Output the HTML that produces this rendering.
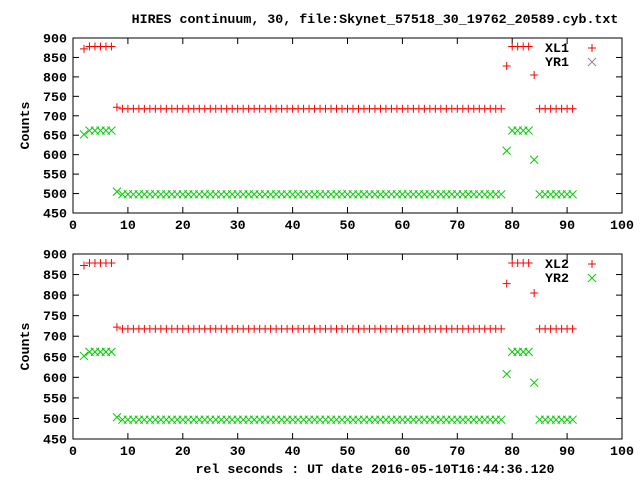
<!DOCTYPE html>
<html><head><meta charset="utf-8"><style>
body{margin:0;background:#fff}
svg{display:block}
text{font-family:"Liberation Mono",monospace;font-size:13.3px;font-weight:bold;fill:#000}
</style></head><body>
<svg id="c" width="640" height="480" xmlns="http://www.w3.org/2000/svg">
<text x="375" y="23" text-anchor="middle">HIRES continuum, 30, file:Skynet_57518_30_19762_20589.cyb.txt</text>
<text x="375" y="473" text-anchor="middle">rel seconds : UT date 2016-05-10T16:44:36.120</text>
</svg>
<script>
const times = [2,3,4,5,6,7,8,9,10,11,12,13,14,15,16,17,18,19,20,21,22,23,24,25,26,27,28,29,30,31,32,33,34,35,36,37,38,39,40,41,42,43,44,45,46,47,48,49,50,51,52,53,54,55,56,57,58,59,60,61,62,63,64,65,66,67,68,69,70,71,72,73,74,75,76,77,78,79,80,81,82,83,84,85,86,87,88,89,90,91];
function seg(a,b,c,d,e,f,g,h){const r=[a];for(let i=0;i<5;i++)r.push(b);r.push(c);for(let i=0;i<70;i++)r.push(d);r.push(e);for(let i=0;i<4;i++)r.push(f);r.push(g);for(let i=0;i<7;i++)r.push(h);return r;}
const xl1 = seg(872,878,722,718,828,878,805,718);
const yr1 = seg(652,662,505,498,610,662,587,498);
const xl2 = seg(872,878,722,718,828,878,805,718);
const yr2 = seg(652,662,503,497,608,662,587,497);
const yTicks = [450,500,550,600,650,700,750,800,850,900];
const xTicks = [0,10,20,30,40,50,60,70,80,90,100];
const panels = [
 {top:38,bot:213,a:xl1,b:yr1,la:"XL1",lb:"YR1",xl:false},
 {top:254,bot:439,a:xl2,b:yr2,la:"XL2",lb:"YR2",xl:true}];
const svg=document.getElementById('c'),NS="http://www.w3.org/2000/svg";
const L=73,R=622;
function mk(t,at,p){const e=document.createElementNS(NS,t);for(const k in at)e.setAttribute(k,at[k]);(p||svg).appendChild(e);return e;}
const xs=v=>L+(v-0)/100*(R-L);
panels.forEach((p,pi)=>{
 const ys=v=>p.bot-(v-450)/450*(p.bot-p.top);
 const g=mk('g',{});
 
 
 const fr=mk('rect',{x:L,y:p.top,width:R-L,height:p.bot-p.top,fill:'none',stroke:'#000','stroke-width':1},g);
 
 
 yTicks.forEach(v=>{const y=ys(v);
  mk('line',{x1:L,x2:L+6,y1:y,y2:y,stroke:'#000'},g);mk('line',{x1:R-6,x2:R,y1:y,y2:y,stroke:'#000'},g);
  const t=mk('text',{x:L-6,y:y+4.5,'text-anchor':'end'},g);t.textContent=v;
  
  });
 xTicks.forEach(v=>{const x=xs(v);
  mk('line',{x1:x,x2:x,y1:p.bot,y2:p.bot-6,stroke:'#000'},g);mk('line',{x1:x,x2:x,y1:p.top,y2:p.top+6,stroke:'#000'},g);
  const t=mk('text',{x:x,y:p.bot+16,'text-anchor':'middle'},g);t.textContent=v;
  
  });
 const yt=mk('text',{x:29,y:(p.top+p.bot)/2,'text-anchor':'middle',transform:`rotate(-90 29 ${(p.top+p.bot)/2})`},g);yt.textContent='Counts';
 
 
 const plus=(x,y,c,par)=>{mk('path',{d:`M${x-4} ${y}h8M${x} ${y-4}v8`,stroke:c,'stroke-width':1,fill:'none'},par);};
 const cross=(x,y,c,par)=>{mk('path',{d:`M${x-4} ${y-4}l8 8M${x-4} ${y+4}l8 -8`,stroke:c,'stroke-width':1,fill:'none'},par);};
 const sa=mk('g',{},g);
 
 
 times.forEach((t,i)=>plus(xs(t),ys(p.a[i]),'#f00',sa));
 const sb=mk('g',{},g);
 
 
 times.forEach((t,i)=>cross(xs(t),ys(p.b[i]),'#0c0',sb));
 const lg=mk('g',{},g);
 
 
 let t1=mk('text',{x:569,y:p.top+14,'text-anchor':'end'},lg);t1.textContent=p.la;
 plus(592,p.top+10,'#f00',lg);
 let t2=mk('text',{x:569,y:p.top+28,'text-anchor':'end'},lg);t2.textContent=p.lb;
 cross(592,p.top+24,p.xl?'#0c0':'#888',lg);
});
</script>
</body></html>
